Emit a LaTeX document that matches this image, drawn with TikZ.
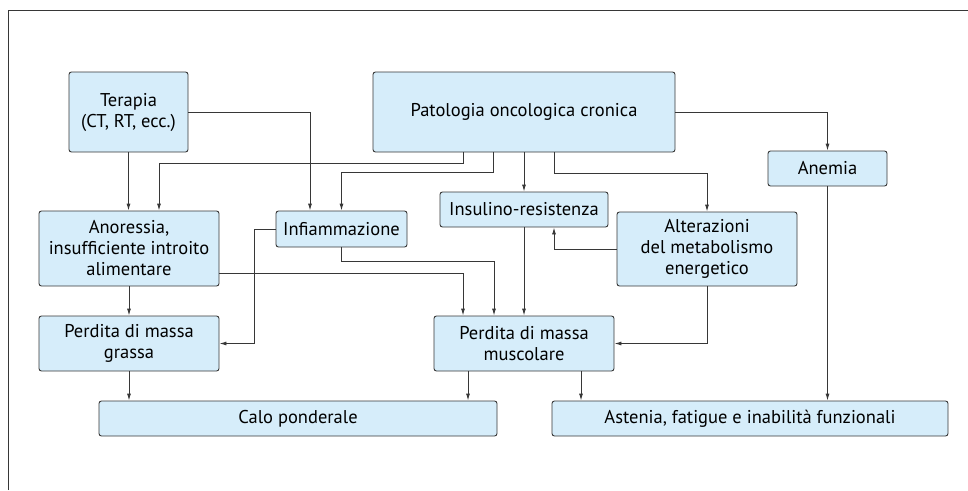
\documentclass[tikz,border=0pt]{standalone}
\usepackage{fontspec}
\setmainfont{PT Sans}
\usetikzlibrary{arrows.meta}
\definecolor{boxblue}{RGB}{214,237,250}
\definecolor{linegray}{RGB}{55,55,55}
\tikzstyle{edge} = [draw,linegray,line width=0.9pt,-{Latex[length=7pt,width=4pt]}]

\begin{document}
\begin{tikzpicture}
[x=1pt,y=-1pt,
box/.style={shape=rectangle,draw=linegray,line width=0.9pt,fill=boxblue,rounded corners=2.5pt,inner sep=0pt,align=center,font=\fontsize{18.5}{21}\selectfont}]

\useasboundingbox (0,0) rectangle (968,490);
%% frame
\draw[linegray,line width=0.9pt] (8,490) -- (8,10) -- (968,10);

%% nodes or vertices
\node (terapia) at (128.5,112) [box,minimum width=119pt,minimum height=80pt] {Terapia\\(CT, RT, ecc.)};
\node (patologia) at (524,112) [box,minimum width=302pt,minimum height=80pt] {Patologia oncologica cronica};
\node (anemia) at (827.5,168.5) [box,minimum width=119pt,minimum height=35pt] {Anemia};
\node (insulino) at (524,209.5) [box,minimum width=168pt,minimum height=35pt] {Insulino-resistenza};
\node (infiammazione) at (341.5,229) [box,minimum width=131pt,minimum height=36pt] {Infiammazione};
\node (alterazioni) at (707,249) [box,minimum width=180pt,minimum height=74pt] {Alterazioni\\del metabolismo\\energetico};
\node (anoressia) at (129,248.5) [box,minimum width=180pt,minimum height=75pt] {Anoressia,\\insufficiente introito\\alimentare};
\node (grassa) at (129,343.5) [box,minimum width=180pt,minimum height=55pt] {Perdita di massa\\grassa};
\node (muscolare) at (524,343.5) [box,minimum width=180pt,minimum height=55pt] {Perdita di massa\\muscolare};
\node (calo) at (298,418.5) [box,minimum width=398pt,minimum height=35pt] {Calo ponderale};
\node (astenia) at (750,418.5) [box,minimum width=396pt,minimum height=35pt] {Astenia, fatigue e inabilità funzionali};

%% straight edges
\foreach \startnode/\endnode in {terapia/anoressia, patologia/insulino, insulino/muscolare, anoressia/grassa, grassa/calo, anemia/astenia}
{
\draw[edge] (\startnode.south) -- (\startnode.south |- \endnode.north);
}

%% edges with corners
\draw[edge] (terapia.east) -| ([xshift=-31.5pt]infiammazione.north);
\draw[edge] ([xshift=-61pt]patologia.south) -- ++(0,11) -| ([xshift=30pt]anoressia.north);
\draw[edge] ([xshift=-31pt]patologia.south) -- ++(0,20) -| (infiammazione.north);
\draw[edge] ([xshift=30pt]patologia.south) -- ++(0,21) -| (alterazioni.north);
\draw[edge] (patologia.east) -| (anemia.north);
\draw[edge] (infiammazione.west) -- ++(-21,0) |- (grassa.east);
\draw[edge] (infiammazione.south) -- ++(0,14) -| ([xshift=-30pt]muscolare.north);
\draw[edge] ([yshift=-24.5pt]anoressia.east) -| ([xshift=-61pt]muscolare.north);
\draw[edge] (alterazioni.west) -| ([xshift=30pt]insulino.south);
\draw[edge] (alterazioni.south) |- (muscolare.east);
\draw[edge] ([xshift=-56pt]muscolare.south) -- ([xshift=-56pt]muscolare.south |- calo.north);
\draw[edge] ([xshift=57pt]muscolare.south) -- ([xshift=57pt]muscolare.south |- astenia.north);

\end{tikzpicture}
\end{document}
